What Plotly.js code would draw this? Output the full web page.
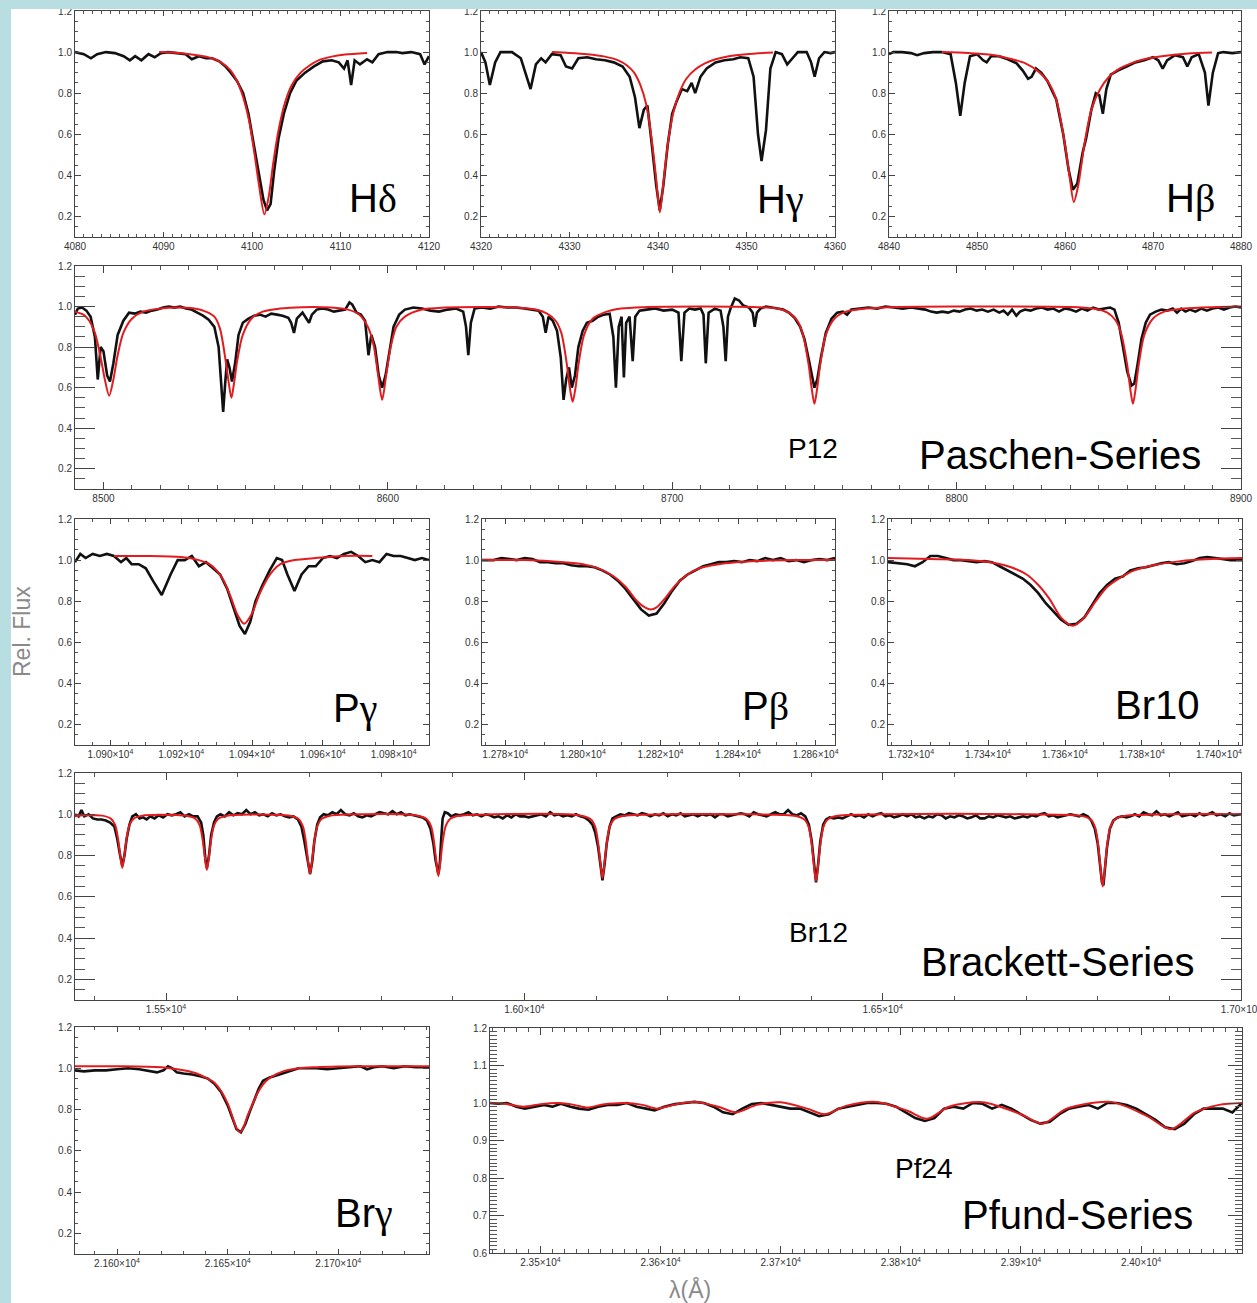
<!DOCTYPE html>
<html><head><meta charset="utf-8">
<script src="https://cdn.plot.ly/plotly-3.0.1.min.js"></script>
<style>html,body{margin:0;padding:0;background:#fff}#chart{width:1257px;height:1303px}</style>
</head><body><div id="chart"></div>
<script>
// ---------- DATA (wavelength in Angstrom, relative flux) ----------
const hdeltaObs = [[4080,1.0],[4081,0.99],[4081.8,0.97],[4082.5,0.99],[4083.5,1.0],[4084.5,0.995],[4085.5,0.98],[4086.2,0.96],[4086.8,0.98],[4087.5,0.96],[4088.3,0.99],[4089,0.975],[4089.7,0.995],[4090.5,1.0],[4091.5,0.995],[4092.5,0.99],[4093.2,0.965],[4094,0.98],[4094.8,0.97],[4095.5,0.97],[4096.3,0.955],[4097,0.93],[4097.6,0.9],[4098.3,0.86],[4099,0.8],[4099.6,0.7],[4100.2,0.55],[4100.8,0.4],[4101.3,0.28],[4101.7,0.23],[4102.1,0.26],[4102.5,0.42],[4103,0.58],[4103.6,0.7],[4104.3,0.8],[4105,0.86],[4106,0.9],[4107,0.93],[4108,0.955],[4109,0.96],[4109.8,0.95],[4110.4,0.92],[4110.8,0.96],[4111.2,0.84],[4111.6,0.96],[4112.2,0.94],[4113,0.965],[4113.6,0.95],[4114.3,0.99],[4115.3,1.0],[4116.3,1.0],[4117,0.995],[4118,1.0],[4119,0.99],[4119.5,0.94],[4120,0.98]];
const hdeltaModel = [[4089.5,1.0],[4091,0.998],[4093,0.99],[4094.5,0.98],[4095.5,0.97],[4096.5,0.95],[4097.5,0.915],[4098.3,0.86],[4099,0.78],[4099.7,0.66],[4100.3,0.5],[4100.8,0.35],[4101.4,0.21],[4101.9,0.3],[4102.4,0.46],[4103,0.62],[4103.7,0.75],[4104.5,0.84],[4105.5,0.9],[4106.5,0.935],[4107.5,0.96],[4109,0.978],[4110.5,0.988],[4113,0.996]];

const hgammaObs = [[4320,1.0],[4320.5,0.95],[4321,0.84],[4321.6,0.95],[4322.2,1.0],[4323.5,1.0],[4324.5,0.97],[4325,0.9],[4325.6,0.82],[4326.2,0.94],[4326.8,0.97],[4327.3,0.95],[4328,0.99],[4329,0.985],[4329.6,0.93],[4330.3,0.92],[4331,0.97],[4332,0.975],[4333,0.965],[4334,0.96],[4335,0.95],[4336,0.93],[4336.8,0.88],[4337.4,0.78],[4337.9,0.63],[4338.4,0.72],[4338.8,0.74],[4339.3,0.55],[4339.8,0.35],[4340.2,0.23],[4340.6,0.35],[4341.1,0.55],[4341.6,0.7],[4342.1,0.76],[4342.7,0.82],[4343.3,0.81],[4343.8,0.85],[4344.2,0.8],[4344.8,0.88],[4345.5,0.92],[4346.5,0.95],[4347.5,0.96],[4348.5,0.965],[4349.3,0.975],[4350.2,0.97],[4350.8,0.88],[4351.3,0.6],[4351.7,0.47],[4352.2,0.62],[4352.7,0.92],[4353.3,1.0],[4354,0.99],[4354.6,0.94],[4355.2,0.97],[4355.8,1.0],[4356.8,1.0],[4357.3,0.95],[4357.7,0.88],[4358.2,0.97],[4358.8,1.0],[4359.5,0.995],[4360,1.0]];
const hgammaModel = [[4328,1.0],[4330,0.996],[4332,0.99],[4334,0.978],[4335.5,0.96],[4336.5,0.935],[4337.3,0.9],[4338,0.84],[4338.7,0.74],[4339.3,0.57],[4339.8,0.38],[4340.2,0.22],[4340.6,0.36],[4341.1,0.55],[4341.7,0.7],[4342.4,0.8],[4343.2,0.87],[4344.2,0.915],[4345.3,0.945],[4346.5,0.965],[4348,0.98],[4350,0.99],[4353,0.998]];

const hbetaObs = [[4840,0.99],[4840.5,1.0],[4841.5,1.0],[4842.5,0.995],[4843.2,0.985],[4844,0.995],[4845,1.0],[4846,1.0],[4847,0.99],[4847.6,0.85],[4848.1,0.69],[4848.6,0.85],[4849.2,0.98],[4850,0.99],[4850.7,0.96],[4851.1,0.95],[4851.6,0.98],[4852.5,0.98],[4853.5,0.965],[4854.5,0.945],[4855.2,0.91],[4855.8,0.87],[4856.2,0.88],[4856.7,0.92],[4857.3,0.9],[4858,0.86],[4859,0.77],[4859.8,0.6],[4860.4,0.43],[4860.9,0.33],[4861.4,0.36],[4861.9,0.48],[4862,0.51],[4862.4,0.58],[4863,0.72],[4863.5,0.8],[4863.9,0.79],[4864.3,0.7],[4864.7,0.82],[4865.2,0.89],[4866,0.91],[4867,0.93],[4868,0.95],[4869,0.96],[4870,0.975],[4870.6,0.96],[4871.1,0.92],[4871.6,0.96],[4872.5,0.985],[4873.4,0.975],[4873.9,0.93],[4874.4,0.975],[4875.2,0.99],[4875.9,0.9],[4876.3,0.74],[4876.8,0.9],[4877.4,0.995],[4878,1.0],[4879,0.995],[4880,1.0]];
const hbetaModel = [[4846,1.0],[4849,0.995],[4852,0.985],[4854,0.965],[4855.5,0.945],[4857,0.905],[4858,0.86],[4859,0.77],[4860,0.55],[4860.5,0.4],[4861,0.27],[4861.5,0.35],[4862.2,0.55],[4863,0.72],[4864,0.82],[4865,0.88],[4866,0.915],[4867.5,0.945],[4869,0.965],[4871,0.98],[4874,0.993],[4876.7,0.998]];

const paschenObs = [[8490,0.96],[8491,0.99],[8492.5,0.995],[8494,0.98],[8495.5,0.95],[8497,0.85],[8498,0.64],[8499,0.8],[8500,0.78],[8501.3,0.66],[8502.3,0.63],[8503.5,0.72],[8505,0.86],[8507,0.93],[8509,0.97],[8511,0.965],[8513,0.975],[8515,0.97],[8517,0.98],[8519,0.985],[8521,0.995],[8523,1.0],[8525,0.995],[8527,1.0],[8529,0.99],[8531,0.985],[8533,0.97],[8535,0.955],[8537,0.935],[8539,0.9],[8540.5,0.8],[8541.5,0.6],[8542.1,0.48],[8542.8,0.62],[8543.5,0.74],[8544.3,0.7],[8545.2,0.63],[8546.3,0.72],[8547.5,0.86],[8549,0.92],[8551,0.94],[8553,0.955],[8555,0.96],[8557,0.95],[8559,0.965],[8561,0.96],[8563,0.955],[8565,0.945],[8566,0.92],[8567,0.87],[8568,0.94],[8570,0.97],[8571.5,0.94],[8572.3,0.92],[8573.3,0.96],[8575,0.985],[8577,0.99],[8579,0.985],[8581,0.975],[8583,0.98],[8585,0.985],[8586.5,1.02],[8587.5,1.01],[8589,0.97],[8590.5,0.96],[8592,0.93],[8593.2,0.76],[8594.2,0.86],[8595.5,0.8],[8596.8,0.66],[8598,0.6],[8599.2,0.66],[8600.5,0.78],[8602,0.9],[8604,0.96],[8606,0.985],[8609,0.995],[8612,0.99],[8615,0.98],[8618,0.975],[8621,0.985],[8624,0.99],[8626.5,0.975],[8627.5,0.9],[8628.3,0.76],[8629.2,0.92],[8630.5,0.99],[8633,0.995],[8636,0.99],[8639,1.0],[8642,0.995],[8645,0.995],[8648,0.99],[8651,0.985],[8653,0.98],[8654.5,0.95],[8655.5,0.87],[8656.5,0.95],[8658,0.93],[8659.5,0.88],[8660.8,0.75],[8661.8,0.54],[8662.7,0.64],[8663.7,0.7],[8664.7,0.6],[8665.8,0.66],[8667,0.8],[8668.5,0.88],[8670,0.92],[8672,0.93],[8674,0.95],[8676,0.96],[8678,0.965],[8679.3,0.85],[8680.2,0.6],[8681.2,0.9],[8682.2,0.95],[8683,0.65],[8683.8,0.92],[8685,0.95],[8686.1,0.73],[8687,0.95],[8688.5,0.98],[8691,0.985],[8694,0.99],[8697,0.98],[8700,0.985],[8702.2,0.97],[8703.2,0.73],[8704.3,0.97],[8706,0.99],[8708,0.985],[8710,0.99],[8711,0.96],[8711.8,0.72],[8712.8,0.97],[8715,0.99],[8717,0.98],[8718,0.9],[8718.8,0.73],[8719.6,0.95],[8720.5,0.99],[8722,1.04],[8723.5,1.03],[8725,1.005],[8727,0.995],[8728.3,0.97],[8729,0.9],[8729.8,0.97],[8731,0.99],[8733,1.0],[8735,0.995],[8737,0.99],[8739,0.985],[8741,0.97],[8743,0.945],[8745,0.9],[8746.5,0.84],[8748,0.74],[8749.2,0.65],[8750,0.6],[8751,0.64],[8752.3,0.75],[8754,0.87],[8756,0.94],[8758,0.97],[8760,0.975],[8761.5,0.96],[8763,0.985],[8766,0.99],[8769,0.995],[8772,0.99],[8775,1.0],[8778,0.995],[8781,0.99],[8784,0.995],[8787,0.99],[8789,0.985],[8791,0.975],[8793,0.97],[8795,0.975],[8797,0.97],[8799,0.98],[8801,0.975],[8803,0.985],[8805,0.99],[8807,0.98],[8809,0.985],[8811,0.975],[8813,0.985],[8815,0.97],[8816.5,0.98],[8818,0.96],[8819.5,0.985],[8821,0.955],[8822.3,0.975],[8824,0.985],[8826,0.98],[8828,0.99],[8830,0.995],[8832,0.985],[8834,0.99],[8836,0.975],[8838,0.99],[8840,0.985],[8842,0.975],[8844,0.99],[8846,0.98],[8848,0.995],[8850,0.985],[8852,0.99],[8854,0.995],[8855.5,0.985],[8857,0.92],[8858.5,0.8],[8860,0.68],[8861.5,0.61],[8862.5,0.62],[8863.7,0.72],[8865,0.84],[8866.5,0.92],[8868,0.96],[8870,0.975],[8872,0.985],[8874,0.98],[8876,0.99],[8877.5,0.97],[8879,0.99],[8880.5,0.975],[8882,0.985],[8884,0.975],[8886,0.99],[8888,0.98],[8890,0.99],[8892,0.995],[8894,0.985],[8896,0.995],[8898,1.0],[8900,0.995]];
const paschenModel = [[8490,0.975],[8493,0.96],[8495,0.93],[8497,0.87],[8499,0.75],[8500.5,0.64],[8502,0.56],[8503.5,0.64],[8505,0.76],[8507,0.87],[8510,0.94],[8514,0.975],[8520,0.99],[8526,0.995],[8532,0.99],[8536,0.975],[8539,0.95],[8541,0.89],[8543,0.73],[8544,0.63],[8545,0.55],[8546,0.63],[8547,0.73],[8549,0.86],[8552,0.94],[8556,0.975],[8562,0.99],[8570,0.997],[8580,0.995],[8586,0.985],[8590,0.96],[8593,0.9],[8595,0.81],[8596.5,0.67],[8598,0.54],[8599.5,0.67],[8601,0.8],[8603,0.9],[8606,0.95],[8612,0.985],[8620,0.995],[8635,0.998],[8645,0.995],[8652,0.985],[8656,0.965],[8659,0.93],[8661,0.87],[8663,0.71],[8664,0.6],[8665,0.53],[8666,0.6],[8667,0.71],[8669,0.86],[8672,0.94],[8676,0.97],[8682,0.99],[8690,0.997],[8710,1.0],[8730,0.997],[8737,0.99],[8741,0.97],[8744,0.93],[8746,0.86],[8748,0.71],[8749,0.6],[8750,0.52],[8751,0.6],[8752,0.71],[8754,0.86],[8757,0.94],[8761,0.975],[8768,0.99],[8780,0.998],[8800,1.0],[8840,0.998],[8848,0.99],[8853,0.97],[8856,0.93],[8858,0.86],[8860,0.71],[8861,0.6],[8862,0.52],[8863,0.6],[8864,0.71],[8866,0.86],[8869,0.94],[8873,0.975],[8880,0.99],[8890,0.997],[8900,1.0]];

const pgammaObs = [[10890,0.99],[10891.5,1.03],[10893,1.01],[10895,1.03],[10897,1.02],[10899,1.03],[10901,1.02],[10903,0.99],[10904.5,1.01],[10906,0.98],[10908,0.98],[10910,0.96],[10912,0.9],[10914.5,0.83],[10917,0.93],[10919,1.0],[10921,1.0],[10923,1.02],[10925,0.97],[10927,0.99],[10929,0.96],[10931,0.93],[10933,0.86],[10935,0.76],[10936.5,0.68],[10938,0.64],[10939.5,0.7],[10941,0.8],[10943,0.88],[10945,0.95],[10947,1.01],[10948.5,1.0],[10950,0.93],[10952,0.85],[10954,0.93],[10956,0.97],[10958,0.97],[10960,1.01],[10962,1.02],[10964,1.01],[10966,1.03],[10968,1.04],[10970,1.02],[10972,0.99],[10974,1.0],[10976,0.99],[10978,1.03],[10980,1.02],[10982,1.02],[10984,1.01],[10986,1.0],[10988,1.01],[10990,1.0]];
const pgammaModel = [[10901,1.02],[10910,1.02],[10920,1.015],[10925,1.0],[10928,0.98],[10930,0.95],[10932,0.9],[10934,0.82],[10936,0.73],[10937.8,0.69],[10940,0.74],[10942,0.83],[10944,0.9],[10946,0.95],[10948,0.98],[10952,1.0],[10958,1.01],[10966,1.02],[10974,1.02]];

const pbetaObs = [[12774,1.0],[12777,1.0],[12779,1.01],[12781,1.005],[12783,1.0],[12785,1.01],[12787,1.005],[12789,0.99],[12791,0.99],[12793,0.985],[12795,0.985],[12797,0.975],[12799,0.97],[12801,0.97],[12803,0.965],[12805,0.95],[12807,0.93],[12809,0.9],[12811,0.86],[12813,0.81],[12815,0.76],[12817,0.73],[12819,0.74],[12821,0.79],[12823,0.85],[12825,0.9],[12827,0.93],[12829,0.95],[12831,0.97],[12833,0.98],[12835,0.99],[12837,0.99],[12839,0.995],[12841,0.99],[12843,1.0],[12845,0.995],[12847,1.01],[12849,1.0],[12851,1.01],[12853,0.995],[12855,1.0],[12857,0.99],[12859,1.0],[12861,1.005],[12863,1.0],[12865,1.01]];
const pbetaModel = [[12774,1.0],[12785,1.0],[12795,0.99],[12800,0.98],[12804,0.96],[12808,0.92],[12811,0.87],[12814,0.8],[12816,0.77],[12817.5,0.76],[12819,0.77],[12821,0.81],[12824,0.88],[12827,0.93],[12830,0.96],[12835,0.98],[12845,0.995],[12855,1.0],[12865,1.0]];

const br10Obs = [[17314,0.99],[17317,0.985],[17319,0.98],[17321,0.97],[17323,0.99],[17325,1.02],[17327,1.02],[17329,1.01],[17331,1.0],[17333,1.0],[17335,0.995],[17337,0.99],[17339,0.995],[17341,0.99],[17343,0.97],[17345,0.95],[17347,0.93],[17349,0.91],[17351,0.88],[17353,0.84],[17355,0.79],[17357,0.75],[17359,0.71],[17361,0.685],[17363,0.69],[17365,0.72],[17367,0.78],[17369,0.84],[17371,0.88],[17373,0.91],[17375,0.92],[17377,0.95],[17379,0.96],[17381,0.965],[17383,0.975],[17385,0.985],[17387,0.99],[17389,0.98],[17391,0.985],[17393,0.995],[17395,1.01],[17397,1.015],[17399,1.01],[17401,1.005],[17403,1.0],[17406,1.0]];
const br10Model = [[17314,1.01],[17325,1.005],[17335,1.0],[17342,0.985],[17346,0.965],[17350,0.93],[17353,0.88],[17356,0.81],[17359,0.72],[17362,0.68],[17365,0.72],[17368,0.8],[17371,0.87],[17374,0.91],[17378,0.95],[17383,0.975],[17390,0.995],[17398,1.005],[17406,1.01]];

const brackettObs = [[15373,1.0],[15378,0.99],[15382,1.02],[15386,0.99],[15392,1.0],[15398,0.98],[15404,0.975],[15410,0.975],[15416,0.97],[15422,0.96],[15428,0.94],[15432,0.88],[15436,0.8],[15439,0.75],[15442,0.8],[15445,0.88],[15449,0.95],[15453,0.99],[15458,1.0],[15463,0.98],[15468,0.985],[15473,0.975],[15478,0.99],[15484,0.98],[15490,0.995],[15496,0.985],[15502,1.0],[15508,0.995],[15514,1.0],[15520,1.01],[15526,0.99],[15532,1.0],[15538,0.99],[15544,0.99],[15549,0.96],[15552,0.9],[15555,0.78],[15557,0.74],[15560,0.8],[15563,0.9],[15567,0.96],[15571,0.99],[15576,1.0],[15582,0.99],[15588,1.01],[15594,0.995],[15600,1.005],[15606,1.0],[15612,1.02],[15618,1.0],[15624,1.01],[15630,0.995],[15636,1.0],[15642,0.99],[15648,1.005],[15654,0.995],[15660,1.0],[15666,0.99],[15672,0.985],[15678,0.99],[15684,0.975],[15689,0.94],[15693,0.87],[15697,0.78],[15701,0.71],[15704,0.77],[15707,0.87],[15711,0.95],[15715,0.985],[15720,1.0],[15726,0.995],[15732,1.01],[15738,1.0],[15744,1.02],[15750,1.0],[15756,0.995],[15762,1.005],[15768,0.99],[15774,0.985],[15780,0.995],[15786,0.99],[15792,1.0],[15798,1.01],[15804,1.005],[15810,1.0],[15816,1.015],[15822,1.0],[15828,1.01],[15834,0.995],[15840,1.0],[15846,0.995],[15852,0.99],[15858,0.985],[15864,0.97],[15869,0.93],[15873,0.86],[15876,0.78],[15880,0.71],[15882,0.76],[15884,0.88],[15886,0.98],[15889,1.01],[15893,1.005],[15898,0.99],[15904,1.0],[15910,0.995],[15916,1.0],[15922,1.01],[15928,0.995],[15934,1.0],[15940,0.99],[15946,1.0],[15952,0.995],[15958,0.985],[15964,0.99],[15970,0.98],[15976,0.995],[15982,0.985],[15988,1.0],[15994,0.99],[16000,0.99],[16006,0.985],[16012,0.99],[16018,0.995],[16024,1.0],[16030,0.99],[16036,1.01],[16042,0.995],[16048,1.0],[16054,0.99],[16060,0.995],[16066,0.99],[16072,1.0],[16078,0.99],[16084,0.985],[16090,0.97],[16095,0.95],[16099,0.91],[16103,0.84],[16106,0.76],[16109,0.68],[16112,0.76],[16115,0.86],[16119,0.94],[16123,0.98],[16128,0.99],[16134,1.0],[16140,0.995],[16146,1.005],[16152,1.0],[16158,0.995],[16164,1.005],[16170,1.0],[16176,0.99],[16182,1.0],[16188,0.995],[16194,1.005],[16200,0.99],[16206,1.0],[16212,0.995],[16218,1.005],[16224,0.99],[16230,0.995],[16236,1.0],[16242,0.99],[16248,1.0],[16254,0.995],[16260,1.0],[16266,0.985],[16272,1.0],[16278,1.0],[16284,0.99],[16290,0.995],[16296,1.0],[16302,1.005],[16308,1.0],[16314,0.99],[16320,1.01],[16326,1.0],[16332,0.995],[16338,0.99],[16344,1.0],[16350,1.01],[16356,1.0],[16362,1.0],[16368,1.02],[16374,1.0],[16380,0.995],[16386,1.005],[16392,0.99],[16397,0.95],[16401,0.87],[16404,0.76],[16407,0.67],[16410,0.76],[16413,0.87],[16417,0.95],[16421,0.975],[16426,0.985],[16432,0.98],[16438,0.985],[16444,0.98],[16450,0.99],[16456,1.0],[16462,0.99],[16468,0.995],[16474,0.985],[16480,1.0],[16486,0.99],[16492,1.0],[16498,1.005],[16504,0.99],[16510,0.995],[16516,0.985],[16522,0.99],[16528,1.0],[16534,0.99],[16540,1.0],[16546,0.985],[16552,0.99],[16558,0.98],[16564,0.99],[16570,0.985],[16576,1.0],[16582,0.995],[16588,0.98],[16594,0.99],[16600,0.985],[16606,0.995],[16612,0.99],[16618,0.98],[16624,0.985],[16630,0.995],[16636,0.98],[16642,0.98],[16648,0.99],[16654,0.985],[16660,0.995],[16666,0.99],[16672,0.985],[16678,0.99],[16684,0.98],[16690,0.985],[16696,0.99],[16702,0.985],[16708,0.995],[16714,0.99],[16720,1.0],[16726,1.005],[16732,0.99],[16738,0.995],[16744,0.985],[16750,0.99],[16756,0.995],[16762,1.0],[16768,0.995],[16774,0.99],[16780,1.0],[16786,0.99],[16791,0.97],[16796,0.93],[16800,0.86],[16803,0.76],[16806,0.67],[16808,0.655],[16810,0.72],[16813,0.84],[16817,0.93],[16822,0.97],[16828,0.985],[16834,0.99],[16840,0.985],[16846,0.99],[16852,1.0],[16858,0.99],[16864,1.01],[16870,1.0],[16876,0.995],[16882,1.015],[16888,0.995],[16894,1.0],[16900,0.99],[16906,1.0],[16912,1.01],[16918,0.99],[16924,0.995],[16930,1.0],[16936,0.99],[16942,1.005],[16948,0.995],[16954,1.0],[16960,1.01],[16966,0.995],[16972,1.0],[16978,0.99],[16984,1.005],[16990,0.995],[17000,1.0]];
const brackettModel = [[15373,0.99],[15385,0.995],[15400,0.995],[15411,0.9935],[15423,0.979],[15429,0.948],[15433,0.883],[15436,0.805],[15439,0.74],[15442,0.805],[15445,0.883],[15449,0.948],[15455,0.979],[15467,0.9935],[15490,0.998],[15515,0.996],[15529,0.993],[15541,0.978],[15547,0.946],[15551,0.879],[15554,0.798],[15557,0.73],[15560,0.798],[15563,0.879],[15567,0.946],[15573,0.978],[15585,0.993],[15620,0.999],[15660,0.997],[15673,0.993],[15685,0.977],[15691,0.942],[15695,0.87],[15698,0.78],[15701,0.71],[15704,0.78],[15707,0.87],[15711,0.942],[15717,0.977],[15729,0.993],[15780,1.0],[15840,0.998],[15852,0.9925],[15864,0.976],[15870,0.94],[15874,0.865],[15877,0.775],[15880,0.70],[15883,0.775],[15886,0.865],[15890,0.94],[15896,0.976],[15908,0.9925],[15960,1.0],[16060,1.0],[16081,0.992],[16093,0.975],[16099,0.938],[16103,0.86],[16106,0.768],[16109,0.69],[16112,0.768],[16115,0.86],[16119,0.938],[16125,0.975],[16137,0.992],[16200,1.0],[16300,1.0],[16379,0.992],[16391,0.974],[16397,0.935],[16401,0.854],[16404,0.756],[16407,0.675],[16410,0.756],[16413,0.854],[16417,0.935],[16423,0.974],[16435,0.992],[16500,1.0],[16700,1.0],[16779,0.991],[16791,0.972],[16797,0.93],[16801,0.843],[16804,0.738],[16807,0.65],[16810,0.738],[16813,0.843],[16817,0.93],[16823,0.972],[16835,0.991],[16900,1.0],[17000,1.0]];

const brgammaObs = [[21581,0.99],[21585,0.985],[21590,0.99],[21595,0.99],[21600,0.995],[21605,1.0],[21610,0.995],[21615,0.985],[21618,0.98],[21621,0.99],[21623,1.01],[21625,1.0],[21627,0.98],[21630,0.975],[21634,0.97],[21638,0.96],[21641,0.95],[21644,0.925],[21647,0.885],[21650,0.82],[21652,0.76],[21654,0.705],[21656,0.69],[21658,0.73],[21660,0.79],[21662,0.85],[21664,0.9],[21666,0.94],[21669,0.955],[21672,0.965],[21675,0.975],[21678,0.985],[21682,1.0],[21686,1.0],[21690,1.0],[21695,0.995],[21700,1.0],[21705,1.005],[21710,1.01],[21713,0.995],[21716,1.005],[21720,1.01],[21725,1.0],[21730,1.01],[21735,1.005],[21741,1.005]];
const brgammaModel = [[21581,1.01],[21600,1.01],[21620,1.005],[21630,0.99],[21636,0.975],[21640,0.955],[21644,0.93],[21647,0.89],[21650,0.83],[21652,0.77],[21654,0.71],[21655.5,0.69],[21657,0.71],[21659,0.77],[21661,0.82],[21664,0.89],[21667,0.935],[21670,0.96],[21675,0.985],[21682,1.0],[21690,1.005],[21700,1.008],[21720,1.01],[21741,1.01]];

const pfundObs = [[23458,1.0],[23465,0.998],[23472,1.0],[23480,0.99],[23487,0.985],[23495,0.99],[23503,0.995],[23510,0.99],[23517,0.998],[23525,0.99],[23532,0.985],[23540,0.982],[23548,0.99],[23556,0.995],[23564,0.995],[23572,1.0],[23580,0.99],[23588,0.985],[23595,0.98],[23603,0.99],[23612,0.997],[23620,1.0],[23628,1.003],[23636,1.0],[23644,0.99],[23652,0.975],[23660,0.97],[23668,0.985],[23676,0.997],[23684,1.0],[23692,0.995],[23700,0.99],[23708,0.985],[23716,0.985],[23724,0.975],[23732,0.965],[23740,0.97],[23748,0.985],[23756,0.99],[23764,0.995],[23772,1.0],[23780,1.0],[23788,0.998],[23796,0.99],[23804,0.975],[23812,0.96],[23820,0.952],[23828,0.96],[23836,0.985],[23844,0.99],[23852,0.985],[23860,1.0],[23868,0.998],[23876,0.985],[23884,0.995],[23892,0.985],[23900,0.97],[23908,0.955],[23916,0.945],[23924,0.95],[23932,0.97],[23940,0.985],[23948,0.99],[23956,0.995],[23964,0.985],[23972,1.0],[23980,1.0],[23988,0.995],[23996,0.985],[24004,0.97],[24012,0.955],[24020,0.935],[24028,0.93],[24036,0.945],[24044,0.97],[24052,0.985],[24060,0.985],[24068,0.985],[24076,0.975],[24084,1.0]];
const pfundModel = [[23458,1.0],[23470,0.998],[23486,0.99],[23500,0.997],[23515,1.0],[23528,0.995],[23539,0.988],[23552,0.996],[23570,1.0],[23585,0.995],[23597,0.985],[23612,0.996],[23630,1.003],[23648,0.99],[23663,0.975],[23680,0.995],[23700,1.002],[23722,0.985],[23737,0.97],[23755,0.993],[23780,1.003],[23805,0.98],[23822,0.958],[23840,0.99],[23868,1.002],[23900,0.97],[23918,0.945],[23938,0.985],[23975,1.003],[24005,0.965],[24025,0.93],[24045,0.975],[24065,0.995],[24084,1.0]];

// tick labels
const yTicks = [0.2,0.4,0.6,0.8,1.0,1.2];
const yTicksPfund = [0.6,0.7,0.8,0.9,1.0,1.1,1.2];
const pgammaTickVals = [10900,10920,10940,10960,10980];
const pgammaTickText = ['1.090×10<sup>4</sup>','1.092×10<sup>4</sup>','1.094×10<sup>4</sup>','1.096×10<sup>4</sup>','1.098×10<sup>4</sup>'];
const pbetaTickVals = [12780,12800,12820,12840,12860];
const pbetaTickText = ['1.278×10<sup>4</sup>','1.280×10<sup>4</sup>','1.282×10<sup>4</sup>','1.284×10<sup>4</sup>','1.286×10<sup>4</sup>'];
const br10TickVals = [17320,17340,17360,17380,17400];
const br10TickText = ['1.732×10<sup>4</sup>','1.734×10<sup>4</sup>','1.736×10<sup>4</sup>','1.738×10<sup>4</sup>','1.740×10<sup>4</sup>'];
const brackettTickVals = [15500,16000,16500,17000];
const brackettTickText = ['1.55×10<sup>4</sup>','1.60×10<sup>4</sup>','1.65×10<sup>4</sup>','1.70×10<sup>4</sup>'];
const brgammaTickVals = [21600,21650,21700];
const brgammaTickText = ['2.160×10<sup>4</sup>','2.165×10<sup>4</sup>','2.170×10<sup>4</sup>'];
const pfundTickVals = [23500,23600,23700,23800,23900,24000];
const pfundTickText = ['2.35×10<sup>4</sup>','2.36×10<sup>4</sup>','2.37×10<sup>4</sup>','2.38×10<sup>4</sup>','2.39×10<sup>4</sup>','2.40×10<sup>4</sup>'];

// ---------- LAYOUT ----------
const W = 1257, H = 1303;
const fx = p => p / W;
const fy = p => 1 - p / H;
const tickFont = {family:'Liberation Sans, Arial, sans-serif', size:10, color:'#333'};
const RED = 'rgb(226,28,30)';

const panels = [
  {obs:hdeltaObs, mod:hdeltaModel, box:[75,429,11,237], xr:[4080,4120], xmaj:{tick0:4080,dtick:10}, xmin:1, yr:[0.1,1.2], wide:false},
  {obs:hgammaObs, mod:hgammaModel, box:[481,835,11,237], xr:[4320,4360], xmaj:{tick0:4320,dtick:10}, xmin:1, yr:[0.1,1.2], wide:false},
  {obs:hbetaObs, mod:hbetaModel, box:[889,1241,11,237], xr:[4840,4880], xmaj:{tick0:4840,dtick:10}, xmin:1, yr:[0.1,1.2], wide:false},
  {obs:paschenObs, mod:paschenModel, box:[75,1241,266,489], xr:[8490,8900], xmaj:{tick0:8500,dtick:100}, xmin:10, yr:[0.1,1.2], wide:true},
  {obs:pgammaObs, mod:pgammaModel, box:[75,429,519,745], xr:[10890,10990], xarr:[pgammaTickVals,pgammaTickText], xmin:5, yr:[0.1,1.2], wide:false},
  {obs:pbetaObs, mod:pbetaModel, box:[482,835,519,745], xr:[12774,12865], xarr:[pbetaTickVals,pbetaTickText], xmin:5, yr:[0.1,1.2], wide:false},
  {obs:br10Obs, mod:br10Model, box:[888,1242,519,745], xr:[17314,17406], xarr:[br10TickVals,br10TickText], xmin:5, yr:[0.1,1.2], wide:false},
  {obs:brackettObs, mod:brackettModel, box:[75,1241,773,1000], xr:[15373,17000], xarr:[brackettTickVals,brackettTickText], xmin:100, yr:[0.1,1.2], wide:true},
  {obs:brgammaObs, mod:brgammaModel, box:[75,429,1027,1254], xr:[21581,21741], xarr:[brgammaTickVals,brgammaTickText], xmin:10, yr:[0.1,1.2], wide:false},
  {obs:pfundObs, mod:pfundModel, box:[490,1242,1028,1253], xr:[23458,24084], xarr:[pfundTickVals,pfundTickText], xmin:10, yr:[0.6,1.2], pf:true, wide:true}
];

const data = [];
const layout = {
  width: W, height: H,
  margin:{l:0,r:0,t:0,b:0},
  paper_bgcolor:'#ffffff', plot_bgcolor:'#ffffff',
  showlegend:false,
  shapes:[
    {type:'rect', xref:'paper', yref:'paper', x0:0, x1:fx(11), y0:0, y1:1, line:{width:0}, fillcolor:'rgb(184,222,226)'},
    {type:'rect', xref:'paper', yref:'paper', x0:0, x1:1, y0:fy(9), y1:1, line:{width:0}, fillcolor:'rgb(184,222,226)'}
  ],
  annotations:[]
};

panels.forEach((p, i) => {
  const n = i === 0 ? '' : String(i + 1);
  const xa = 'x' + n, ya = 'y' + n;
  data.push({x:p.obs.map(d=>d[0]), y:p.obs.map(d=>d[1]), xaxis:xa, yaxis:ya, type:'scatter', mode:'lines',
             line:{color:'#111', width:2.6}, hoverinfo:'skip'});
  data.push({x:p.mod.map(d=>d[0]), y:p.mod.map(d=>d[1]), xaxis:xa, yaxis:ya, type:'scatter', mode:'lines',
             line:{color:RED, width:2, shape:'spline', smoothing:0.8}, hoverinfo:'skip'});
  const [x0,x1,yt,yb] = p.box;
  const xl = p.wide ? 7 : 5, yl = p.pf ? 14 : (p.wide ? 20 : 6);
  const xax = {
    domain:[fx(x0), fx(x1)], range:p.xr, anchor:ya,
    showgrid:false, zeroline:false, showline:true, linecolor:'#444', linewidth:1, mirror:'ticks',
    ticks:'inside', ticklen:xl, tickcolor:'#444', tickwidth:1, tickfont:tickFont, ticklabeloverflow:'allow',
    minor:{ticks:'inside', ticklen:Math.round(xl/2), tickcolor:'#555', tickmode:'linear', tick0:p.xr[0] - (p.xr[0] % p.xmin), dtick:p.xmin, showgrid:false}
  };
  if (p.xarr) { xax.tickmode='array'; xax.tickvals=p.xarr[0]; xax.ticktext=p.xarr[1]; }
  else { xax.tickmode='linear'; xax.tick0=p.xmaj.tick0; xax.dtick=p.xmaj.dtick; xax.tickformat='d'; }
  const yax = {
    domain:[fy(yb), fy(yt)], range:p.yr, anchor:xa,
    showgrid:false, zeroline:false, showline:true, linecolor:'#444', linewidth:1, mirror:'ticks',
    ticks:'inside', ticklen:yl, tickcolor:'#444', tickwidth:1, tickfont:tickFont, ticklabeloverflow:'allow',
    tickmode:'array', tickvals: p.pf ? yTicksPfund : yTicks, ticktext:(p.pf ? yTicksPfund : yTicks).map(v=>v.toFixed(1)),
    minor:{ticks:'inside', ticklen:Math.round(yl/2), tickcolor:'#555', tickmode:'linear', tick0: p.pf ? 0.6 : 0.1, dtick: p.pf ? 0.01 : 0.05, showgrid:false}
  };
  layout['xaxis' + n] = xax;
  layout['yaxis' + n] = yax;
});

// panel labels
const big = 40, small = 28;
const sans = 'Liberation Sans, Arial, sans-serif';
const narrow = 'Liberation Sans Narrow, Liberation Sans, Arial, sans-serif';
const greek = s => '<span style="font-family:Liberation Serif">' + s + '</span>';
const labels = [
  ['H' + greek('δ'), 373, 198, big, sans],
  ['H' + greek('γ'), 780, 200, big, sans],
  ['H' + greek('β'), 1190, 198, big, sans],
  ['P12', 813, 448, small, sans],
  ['Paschen-Series', 1060, 455, big, sans],
  ['P' + greek('γ'), 355, 708, big, narrow],
  ['P' + greek('β'), 765, 706, big, narrow],
  ['Br10', 1157, 705, big, narrow],
  ['Br12', 818, 932, small, narrow],
  ['Brackett-Series', 1057, 962, big, sans],
  ['Br' + greek('γ'), 364, 1213, big, narrow],
  ['Pf24', 924, 1168, small, narrow],
  ['Pfund-Series', 1077, 1215, big, sans]
];
labels.forEach(l => layout.annotations.push({
  text:l[0], xref:'paper', yref:'paper', x:fx(l[1]), y:fy(l[2]), xanchor:'center', yanchor:'middle',
  showarrow:false, font:{family:l[4], size:l[3], color:'#000'}
}));
layout.annotations.push({text:'Rel. Flux', xref:'paper', yref:'paper', x:fx(22), y:fy(632), textangle:-90,
  xanchor:'center', yanchor:'middle', showarrow:false, font:{family:sans, size:23, color:'#8a8a8a'}});
layout.annotations.push({text:'λ(Å)', xref:'paper', yref:'paper', x:fx(690), y:fy(1289), xanchor:'center', yanchor:'middle',
  showarrow:false, font:{family:sans, size:23, color:'#8a8a8a'}});

Plotly.newPlot('chart', data, layout, {staticPlot:true, displayModeBar:false});
</script>
</body></html>
